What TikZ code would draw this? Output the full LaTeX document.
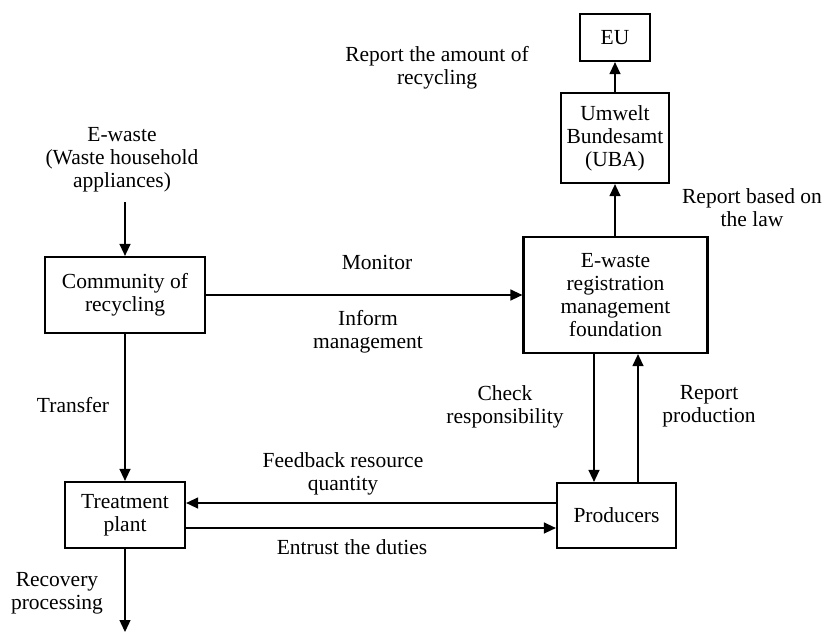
\documentclass[tikz,border=0pt]{standalone}
\usepackage{fontspec}
\setmainfont{Liberation Serif}
\usetikzlibrary{arrows.meta}
\newcommand\diagfont{\fontsize{21.5}{23}\selectfont}
\begin{document}
\begin{tikzpicture}[x=1pt,y=-1pt,
  box/.style={draw,line width=2.2pt,inner sep=0pt,align=center,font=\diagfont},
  lbl/.style={align=center,inner sep=0pt,font=\diagfont},
  arr/.style={line width=1.3pt,-{Triangle[length=12pt,width=11pt]}}]
\useasboundingbox (0,0) rectangle (824,633);
% boxes
\node[box,minimum width=70pt,minimum height=47pt] (eu) at (615,37.5) {EU};
\node[box,minimum width=108pt,minimum height=90pt] (uba) at (615,138) {Umwelt\\Bundesamt\\(UBA)};
\node[box,minimum width=184pt,minimum height=116pt] (erm) at (615.5,295) {E-waste\\registration\\management\\foundation};
\node[box,minimum width=160pt,minimum height=76pt] (comm) at (125,295) {Community of\\recycling};
\node[box,minimum width=120pt,minimum height=66pt] (treat) at (125,515) {Treatment\\plant};
\node[box,minimum width=119pt,minimum height=65pt] (prod) at (616.5,515.5) {Producers};
% labels
\node[lbl] (ewaste) at (122,160) {E-waste\\(Waste household\\appliances)};
\node[lbl] (lreport) at (437,67.5) {Report the amount of\\recycling};
\node[lbl] (llaw) at (752,207.5) {Report based on\\the law};
\node[lbl] (lmon) at (377,262) {Monitor};
\node[lbl] (linf) at (368,331.5) {Inform\\management};
\node[lbl] (ltrans) at (73,405) {Transfer};
\node[lbl] (lcheck) at (505,406.5) {Check\\responsibility};
\node[lbl] (lprod) at (709,406.5) {Report\\production};
\node[lbl] (lfeed) at (343,473.5) {Feedback resource\\quantity};
\node[lbl] (lentr) at (352,547) {Entrust the duties};
\node[lbl] (lrec) at (57,593.5) {Recovery\\processing};
% coordinates
\coordinate (ewstart) at (125,202);
\coordinate (recend) at (125,632);
% connectors
\draw[arr] (ewstart) -- (comm.north);
\draw[arr] (comm.east) -- (erm.west);
\draw[arr] (comm.south) -- (treat.north);
\draw[arr] (treat.south) -- (recend);
\draw[arr] (prod.west |- 0,503) -- (treat.east |- 0,503);
\draw[arr] (treat.east |- 0,528) -- (prod.west |- 0,528);
\draw[arr] (594,0 |- erm.south) -- (594,0 |- prod.north);
\draw[arr] (638,0 |- prod.north) -- (638,0 |- erm.south);
\draw[arr] (615,0 |- erm.north) -- (uba.south);
\draw[arr] (uba.north) -- (eu.south);
\end{tikzpicture}
\end{document}
